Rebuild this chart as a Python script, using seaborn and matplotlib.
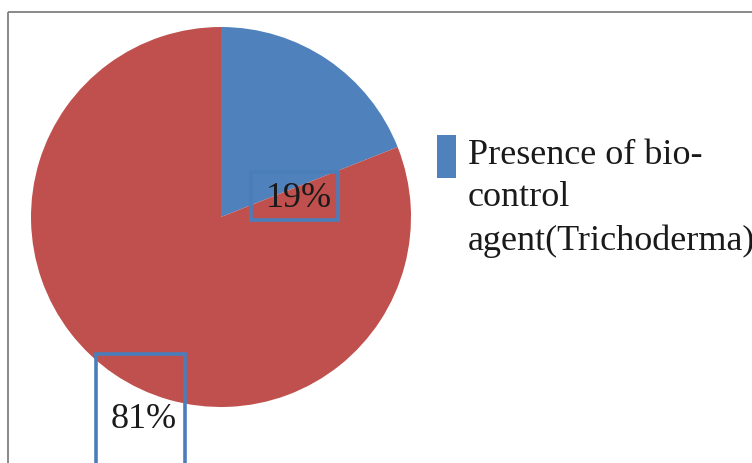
import matplotlib
matplotlib.use("Agg")
import matplotlib.pyplot as plt
from matplotlib.patches import Rectangle
import seaborn as sns

# data
categories = ["Presence of bio-\ncontrol\nagent(Trichoderma)", "Absence"]
values = [19, 81]
pct_labels = ["19%", "81%"]
colors = ["#4F81BD", "#C0504D"]

sns.set_style("white")
plt.rcParams["font.family"] = ["Liberation Serif", "DejaVu Serif"]

W, H = 752, 463
fig = plt.figure(figsize=(W / 100, H / 100), dpi=100)

# outer frame (cut off at right and bottom like the reference)
fig.patches.append(Rectangle((8 / W, 1 - 12 / H), 1.2, -1.2, transform=fig.transFigure,
                             fill=False, edgecolor="#808080", linewidth=1.3))

# pie: centre ~ (221, 217) px, radius ~ 190 px
cx, cy, r = 221, 217, 190
ax = fig.add_axes([(cx - r) / W, 1 - (cy + r) / H, 2 * r / W, 2 * r / H])
wedges, _ = ax.pie(values, colors=colors, startangle=90, counterclock=False,
                   wedgeprops=dict(linewidth=0))
ax.set_xlim(-1, 1)
ax.set_ylim(-1, 1)
ax.axis("off")

def px(x, y):
    return (x - cx) / r, (cy - y) / r

# label boxes
box_col = "#4A7EBB"
for (x0, y0, x1, y1) in [(251, 172, 338, 220), (96, 354, 185, 520)]:
    a = px(x0, y1)
    b = px(x1, y0)
    ax.add_patch(Rectangle(a, b[0] - a[0], b[1] - a[1], fill=False,
                           edgecolor=box_col, linewidth=2.6, clip_on=False, zorder=3))

# percentage labels
ax.text(*px(299, 199), pct_labels[0], fontsize=26, ha="center", va="center", color="#1a1a1a", zorder=4)
ax.text(*px(144, 419), pct_labels[1], fontsize=26, ha="center", va="center", color="#1a1a1a",
        clip_on=False, zorder=4)

# legend (only the first category shown, as in the reference)
fig.patches.append(Rectangle((437 / W, 1 - 178 / H), 19 / W, 43 / H, transform=fig.transFigure,
                             facecolor=colors[0], edgecolor="none"))
fig.text(468 / W, 1 - 139 / H, categories[0], fontsize=26, ha="left", va="top",
         linespacing=1.38, color="#1a1a1a")

fig.savefig("out.png", dpi=100)
